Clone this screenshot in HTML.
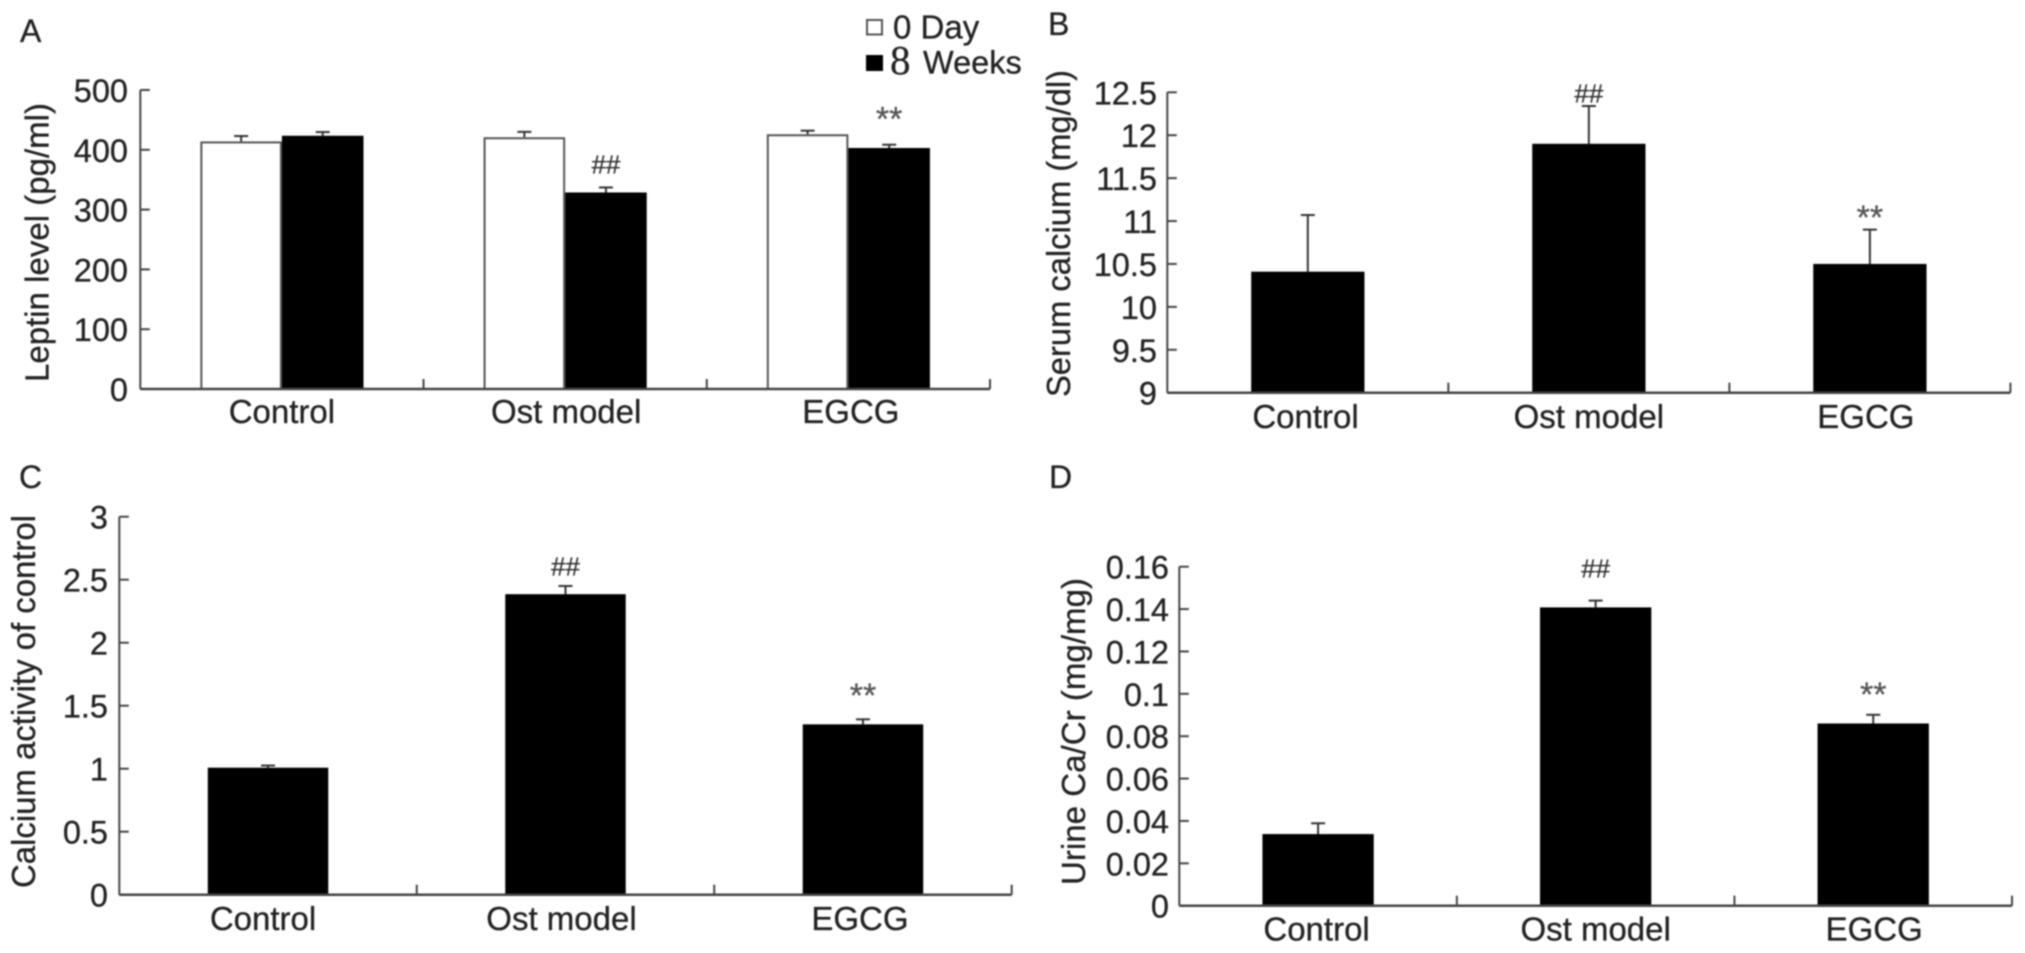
<!DOCTYPE html>
<html lang="en">
<head>
<meta charset="utf-8">
<title>Leptin and calcium bar charts</title>
<style>
html,body{margin:0;padding:0;background:#fff;width:2025px;height:953px;overflow:hidden}
svg{display:block;filter:blur(0.7px)}
text{font-family:"Liberation Sans",Arial,sans-serif;fill:#222;stroke:#222;stroke-width:0.3px}
.tick{font-size:32.5px}
.cat{font-size:33px}
.title{font-size:33px}
.letter{font-size:32px}
.hash{font-size:26px;fill:#333;stroke:#333}
.star{font-size:34px;fill:#555;stroke:#555}
</style>
</head>
<body>
<svg id="figure" xmlns="http://www.w3.org/2000/svg" width="2025" height="953" viewBox="0 0 2025 953">
  <rect x="0" y="0" width="2025" height="953" fill="#fff"/>

  <text class="letter" x="20" y="42">A</text>
  <text class="letter" x="1048" y="35">B</text>
  <text class="letter" x="19" y="488">C</text>
  <text class="letter" x="1049" y="488">D</text>

  <text class="title" transform="translate(48.5,382) rotate(-90)" textLength="279" lengthAdjust="spacingAndGlyphs">Leptin level (pg/ml)</text>
  <text class="title" transform="translate(1070,397) rotate(-90)" textLength="327" lengthAdjust="spacingAndGlyphs">Serum calcium (mg/dl)</text>
  <text class="title" transform="translate(35,888) rotate(-90)" textLength="373" lengthAdjust="spacingAndGlyphs">Calcium activity of control</text>
  <text class="title" transform="translate(1085,885) rotate(-90)" textLength="307" lengthAdjust="spacingAndGlyphs">Urine Ca/Cr (mg/mg)</text>

  <g>
    <g>
      <rect x="867" y="20" width="15" height="14.5" fill="#fff" stroke="#555" stroke-width="2"/>
      <text x="893" y="38.5" font-size="33">0 Day</text>
    </g>
    <g>
      <rect x="866" y="55" width="17" height="16" fill="#000"/>
      <text x="890" y="74" font-size="41" style="font-family:'Liberation Serif',serif">8</text>
      <text x="923" y="73.3" font-size="32.5">Weeks</text>
    </g>
  </g>
</svg>

<script>
// ----- shared categories -----
const categories = ["Control", "Ost model", "EGCG"];

// ----- panel A: leptin -----
const aTickValues = [0, 100, 200, 300, 400, 500];
const aTickLabels = ["0", "100", "200", "300", "400", "500"];
const aDay0 = [414, 421, 426];
const aDay0Upper = [423, 430, 432];
const aWeeks8 = [423.5, 328.6, 403];
const aWeeks8Upper = [429.7, 337, 408.5];
const aMarks = ["", "##", "**"];
const aMarkLevels = [0, 375, 457];

// ----- panel B: serum calcium -----
const bTickValues = [9, 9.5, 10, 10.5, 11, 11.5, 12, 12.5];
const bTickLabels = ["9", "9.5", "10", "10.5", "11", "11.5", "12", "12.5"];
const bValues = [10.41, 11.9, 10.5];
const bUpper = [11.07, 12.34, 10.9];
const bMarks = ["", "##", "**"];
const bMarkLevels = [0, 12.48, 11.08];

// ----- panel C: calcium activity -----
const cTickValues = [0, 0.5, 1, 1.5, 2, 2.5, 3];
const cTickLabels = ["0", "0.5", "1", "1.5", "2", "2.5", "3"];
const cValues = [1.008, 2.385, 1.352];
const cUpper = [1.025, 2.45, 1.392];
const cMarks = ["", "##", "**"];
const cMarkLevels = [0, 2.6, 1.609];

// ----- panel D: urine Ca/Cr -----
const dTickValues = [0, 0.02, 0.04, 0.06, 0.08, 0.1, 0.12, 0.14, 0.16];
const dTickLabels = ["0", "0.02", "0.04", "0.06", "0.08", "0.1", "0.12", "0.14", "0.16"];
const dValues = [0.0338, 0.1408, 0.086];
const dUpper = [0.0389, 0.144, 0.0901];
const dMarks = ["", "##", "**"];
const dMarkLevels = [0, 0.159, 0.1014];

const SVG_NS = "http://www.w3.org/2000/svg";
const figure = document.getElementById("figure");

function make(parent, tag, attrs, content) {
  const el = document.createElementNS(SVG_NS, tag);
  for (const k in attrs) el.setAttribute(k, attrs[k]);
  if (content !== undefined) el.textContent = content;
  parent.appendChild(el);
  return el;
}

function drawPanel(id, box, domain, tickValues, tickLabels, seriesList, marks, markLevels) {
  const g = make(figure, "g", {});
  
  

  const yScale = v => box.base - (v - domain[0]) / (domain[1] - domain[0]) * (box.base - box.top);
  const band = (box.right - box.left) / categories.length;
  const bandCenter = i => box.left + band * (i + 0.5);
  const barWidth = band * box.barShare;
  const AXIS = "#444";

  // y axis
  const yAxis = make(g, "line", {x1: box.left, x2: box.left, y1: box.top, y2: box.base, stroke: AXIS, "stroke-width": 2});
  
  

  tickValues.forEach((v, i) => {
    const y = yScale(v);
    const t = make(g, "line", {x1: box.left, x2: box.left + 9.5, y1: y, y2: y, stroke: AXIS, "stroke-width": 2});
    
    
    const lab = make(g, "text", {class: "tick", x: box.labelRight, y: y + 12, "text-anchor": "end"}, tickLabels[i]);
    
    
  });

  // bars and error bars
  const groupCount = seriesList.length;
  seriesList.forEach((s, si) => {
    s.values.forEach((v, i) => {
      const x0 = bandCenter(i) - barWidth * groupCount / 2 + barWidth * si;
      const cx = x0 + barWidth / 2;
      const yTop = yScale(v);
      const yUp = yScale(s.upper[i]);

      const stem = make(g, "line", {x1: cx, x2: cx, y1: yTop, y2: yUp, stroke: "#333", "stroke-width": 2});
      
      
      const cap = make(g, "line", {x1: cx - 7, x2: cx + 7, y1: yUp, y2: yUp, stroke: "#333", "stroke-width": 2});
      
      

      const isWhite = s.fill === "#fff";
      const inset = isWhite ? 1 : 0;
      const bar = make(g, "rect", {
        x: x0 + inset, y: yTop + inset,
        width: barWidth - inset * 2, height: box.base - yTop - inset,
        fill: s.fill, stroke: isWhite ? "#555" : "none", "stroke-width": 2
      });
      
      
    });
  });

  // x axis
  const xAxis = make(g, "line", {x1: box.left, x2: box.right, y1: box.base, y2: box.base, stroke: AXIS, "stroke-width": 2.5});
  
  

  categories.forEach((c, i) => {
    const tx = box.left + band * (i + 1);
    const t = make(g, "line", {x1: tx, x2: tx, y1: box.base, y2: box.base - 10, stroke: AXIS, "stroke-width": 2});
    
    
    const lab = make(g, "text", {class: "cat", x: bandCenter(i) + box.catShift[i], y: box.catBaseline, "text-anchor": "middle"}, c);
    
    
  });

  // significance marks
  const markSeries = groupCount - 1;
  marks.forEach((m, i) => {
    if (!m) return;
    const x0 = bandCenter(i) - barWidth * groupCount / 2 + barWidth * markSeries;
    const cx = x0 + barWidth / 2;
    const cy = yScale(markLevels[i]);
    const isHash = m === "##";
    const el = make(g, "text", {
      class: isHash ? "hash" : "star",
      x: cx, y: cy + (isHash ? 8.5 : 15), "text-anchor": "middle"
    }, m);
    
    
  });
}

drawPanel("a",
  {left: 140.3, right: 990, top: 90, base: 389, barShare: 0.288, labelRight: 128, catBaseline: 423, catShift: [0, 1, 2.5]},
  [0, 500], aTickValues, aTickLabels,
  [{key: "day0", fill: "#fff", values: aDay0, upper: aDay0Upper},
   {key: "weeks8", fill: "#000", values: aWeeks8, upper: aWeeks8Upper}],
  aMarks, aMarkLevels);

drawPanel("b",
  {left: 1167.3, right: 2010.4, top: 92.3, base: 392.7, barShare: 0.403, labelRight: 1157, catBaseline: 428, catShift: [-2.3, 0, -4]},
  [9, 12.5], bTickValues, bTickLabels,
  [{key: "main", fill: "#000", values: bValues, upper: bUpper}],
  bMarks, bMarkLevels);

drawPanel("c",
  {left: 119.3, right: 1011.7, top: 516.7, base: 894.7, barShare: 0.405, labelRight: 108, catBaseline: 930, catShift: [-5, -4, -3]},
  [0, 3], cTickValues, cTickLabels,
  [{key: "main", fill: "#000", values: cValues, upper: cUpper}],
  cMarks, cMarkLevels);

drawPanel("d",
  {left: 1179.3, right: 2012, top: 566.7, base: 905.7, barShare: 0.401, labelRight: 1169, catBaseline: 940.5, catShift: [-1.5, 0, 1]},
  [0, 0.16], dTickValues, dTickLabels,
  [{key: "main", fill: "#000", values: dValues, upper: dUpper}],
  dMarks, dMarkLevels);
</script>
</body>
</html>
